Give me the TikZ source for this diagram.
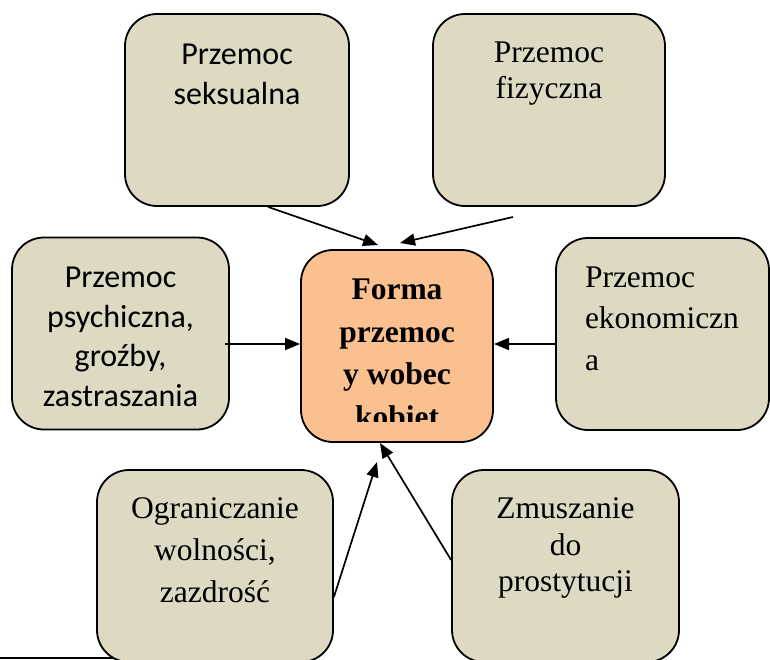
\documentclass[tikz,border=0pt]{standalone}
\usepackage{fontspec}
\setmainfont{Liberation Serif}
\setsansfont{Carlito}
\usetikzlibrary{positioning,arrows.meta}
\definecolor{beige}{HTML}{DDD9C3}
\definecolor{peach}{HTML}{FAC090}

\begin{document}
\begin{tikzpicture}[x=1pt,y=-1pt,line width=1.8pt,
    seriftxt/.style={inner sep=0pt,align=center,font=\fontsize{31.5}{36.3}\selectfont},
    widetxt/.style={inner sep=0pt,align=center,font=\fontsize{31.5}{41.7}\selectfont},
    sanstxt/.style={inner sep=0pt,align=center,font=\sffamily\fontsize{32}{39.5}\selectfont},
    boldtxt/.style={inner sep=0pt,align=center,font=\bfseries\fontsize{31.5}{42.5}\selectfont}]
                \useasboundingbox (0,0) rectangle (770,659);
                \draw[line width=1.5pt] (0,658) -- (170,658);
                \begin{scope}[every node/.style={draw=black,fill=beige,rounded corners=32pt,inner sep=0pt,minimum height=192pt}]
                \node[minimum width=224pt] (seks) at (237,110) {};
                \node[minimum width=232pt] (fiz) at (549,110) {};
                \node[minimum width=217pt] (psych) at (120.5,333.5) {};
                \node[minimum width=213pt] (ekon) at (662.5,334) {};
                \node[minimum width=236pt] (ogr) at (215,566) {};
                \node[minimum width=227pt] (zmus) at (565.5,566) {};
                \end{scope}
                \begin{scope}[every node/.style={draw=black,fill=peach,rounded corners=32pt,inner sep=0pt}]
                \node[minimum width=192pt,minimum height=192pt] (forma) at (397,346) {};
                \end{scope}
                % texts
                \node[sanstxt, below=30pt of seks.north] (seks-t) {Przemoc\\seksualna};
                \node[seriftxt, below=28pt of fiz.north] (fiz-t) {Przemoc\\fizyczna};
                \node[sanstxt, below=29.5pt of psych.north] (psych-t) {Przemoc\\psychiczna,\\groźby,\\zastraszania};
                \node[widetxt, align=left, below right=28.5pt and 29pt of ekon.north west] (ekon-t) {Przemoc\\ekonomiczn\\a};
                \node[widetxt, below=28pt of ogr.north] (ogr-t) {Ograniczanie\\wolności,\\zazdrość};
                \node[seriftxt, below=28pt of zmus.north] (zmus-t) {Zmuszanie\\do\\prostytucji};
                \begin{scope}
                \clip (301,250) rectangle (493,421);
                \node[boldtxt, below=29pt of forma.north] (forma-t) {Forma\\przemoc\\y wobec\\kobiet};
                \end{scope}
                % arrows
                \coordinate (c1) at (378,245);
                \coordinate (c2) at (400,243);
                \coordinate (c3) at (225,344);
                \coordinate (c4) at (494,344);
                \coordinate (c5) at (377,462);
                \coordinate (c6) at (380,443);
                \coordinate (f2) at (513,217);
                \begin{scope}[every edge/.style={draw=black,line width=1.7pt,-{Triangle[length=15pt,width=12pt]}}]
                \draw ([xshift=31pt]seks.south) edge (c1);
                \draw (f2) edge (c2);
                \draw (c3) edge (forma.west |- c3);
                \draw (ekon.west |- c4) edge (c4);
                \draw ([yshift=-31pt]ogr.east) edge (c5);
                \draw ([yshift=6pt]zmus.west) edge (c6);
                \end{scope}
\end{tikzpicture}
\end{document}
